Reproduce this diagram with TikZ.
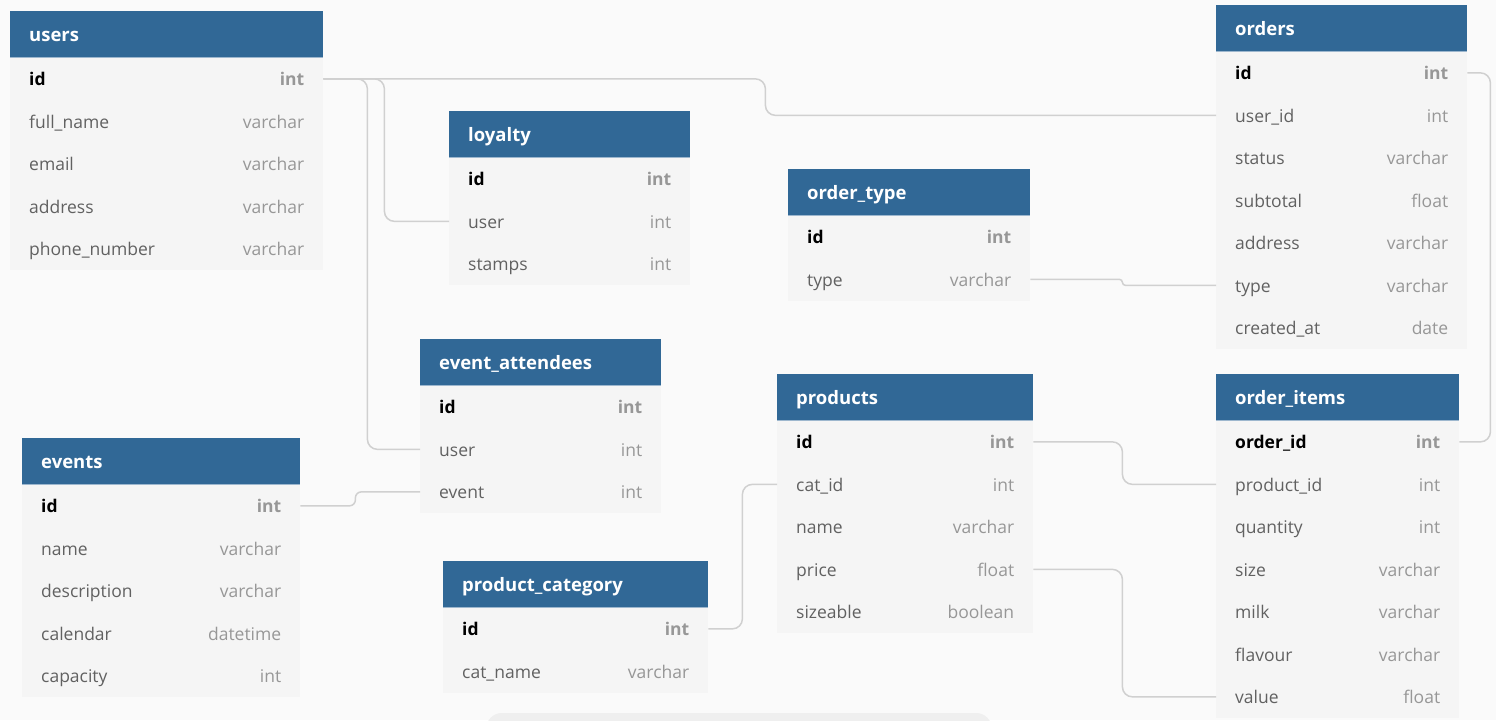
\documentclass[tikz,border=0pt]{standalone}
\usepackage{fontspec}
\usepackage{tikz}
\usepackage{xcolor}
\setmainfont{Open Sans}

\definecolor{headblue}{HTML}{316896}
\definecolor{headline}{HTML}{9DB7CE}
\definecolor{rowgray}{HTML}{F5F5F5}
\definecolor{pagegray}{HTML}{FAFAFA}
\definecolor{namegray}{HTML}{616161}
\definecolor{typegray}{HTML}{979797}
\definecolor{linkgray}{HTML}{D0D0D0}
\definecolor{bargray}{HTML}{EFEFEF}

\tikzset{
  tblhead/.style={fill=headblue, text=white, minimum height=46pt, inner xsep=19pt, inner ysep=0pt,
    text height=14pt, text depth=0pt, align=left, font=\fontsize{18.5}{20}\selectfont\bfseries},
  tblrow/.style={fill=rowgray, text=namegray, minimum height=42.5pt, inner xsep=19pt, inner ysep=0pt,
    text height=14pt, text depth=0pt, font=\fontsize{17.5}{20}\selectfont},
  link/.style={draw=linkgray, line width=1.5pt, rounded corners=10pt},
}

\newcommand{\keyname}[1]{{\color{black}\bfseries #1}}
\newcommand{\keytype}[1]{{\color{typegray}\bfseries #1}}
\newcommand{\coltype}[1]{{\color{typegray}#1}}

% table: name, title, top left, width, key field, other fields
\newcommand{\dbtable}[6]{%
  \pgfmathsetlengthmacro{\colw}{#4-38pt}
  \node[tblhead, text width=\colw, anchor=north west] (#1) at #3 {#2};
  \node[tblrow, text width=\colw, anchor=north west] (#1-0) at (#1.south west) {\keyname{#5}\hfill\keytype{int}};
  \foreach \f/\t [count=\i] in {#6}
    \node[tblrow, text width=\colw, anchor=north west] (#1-\i) at ([yshift=-\i*42.5pt]#1.south west) {\f\hfill\coltype{\t}};
  \draw[headline, line width=1pt] (#1.south west) -- (#1.south east);
}

\begin{document}
\begin{tikzpicture}[x=1pt, y=-1pt]
\useasboundingbox (0,0) rectangle (1496,720);
\fill[pagegray] (0,0) rectangle (1496,720);
\fill[bargray, rounded corners=16pt] (486,713) rectangle (992,760);

\dbtable{users}{users}{(10,11)}{313pt}{id}{full\_name/varchar, email/varchar, address/varchar, phone\_number/varchar}
\dbtable{loyalty}{loyalty}{(449,111)}{241pt}{id}{user/int, stamps/int}
\dbtable{ordertype}{order\_type}{(788,169)}{242pt}{id}{type/varchar}
\dbtable{orders}{orders}{(1216,5)}{251pt}{id}{user\_id/int, status/varchar, subtotal/float, address/varchar, type/varchar, created\_at/date}
\dbtable{attendees}{event\_attendees}{(420,339)}{241pt}{id}{user/int, event/int}
\dbtable{events}{events}{(22,438)}{278pt}{id}{name/varchar, description/varchar, calendar/datetime, capacity/int}
\dbtable{products}{products}{(777,374)}{256pt}{id}{cat\_id/int, name/varchar, price/float, sizeable/boolean}
\dbtable{pcat}{product\_category}{(443,561)}{265pt}{id}{cat\_name/varchar}
\dbtable{orderitems}{order\_items}{(1216,374)}{243pt}{order\_id}{product\_id/int, quantity/int, size/varchar, milk/varchar, flavour/varchar, value/float}

% references
\draw[link] (users-0.east) -- ++(442,0) |- (orders-1.west);
\draw[link] (users-0.east) -- ++(61,0) |- (loyalty-1.west);
\draw[link] (users-0.east) -- ++(44,0) |- (attendees-1.west);
\draw[link, rounded corners=6pt] (events-0.east) -- ++(55,0) |- (attendees-2.west);
\draw[link] (pcat-0.east) -- ++(34,0) |- (products-1.west);
\draw[link] (products-0.east) -- ++(89,0) |- (orderitems-1.west);
\draw[link] (products-3.east) -- ++(89,0) |- (orderitems-6.west);
\draw[link, rounded corners=3pt] (ordertype-1.east) -- ++(92,0) |- (orders-5.west);
\draw[link] (orders-0.east) -- ++(23,0) |- (orderitems-0.east);
\end{tikzpicture}
\end{document}
